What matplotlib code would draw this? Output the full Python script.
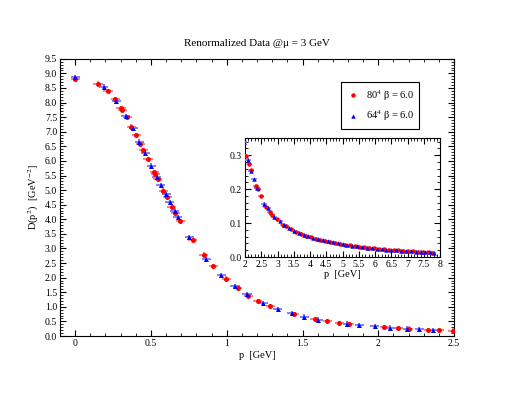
import matplotlib
matplotlib.use("Agg")
import matplotlib.pyplot as plt
from matplotlib.lines import Line2D
from matplotlib.ticker import MultipleLocator, FormatStrFormatter

plt.rcParams['font.family'] = ['Liberation Serif', 'DejaVu Serif']
plt.rcParams['mathtext.fontset'] = 'stix'

# 80^4, beta = 6.0  (red circles)
p_80 = [0.0, 0.151, 0.217, 0.265, 0.303, 0.310, 0.344, 0.371, 0.404, 0.430, 0.450,
        0.481, 0.522, 0.528, 0.546, 0.581, 0.607, 0.638, 0.662, 0.695, 0.776,
        0.849, 0.912, 0.996, 1.072, 1.143, 1.204, 1.287, 1.445, 1.581, 1.664,
        1.741, 1.807, 2.04, 2.13, 2.20, 2.33, 2.40, 2.49, 2.65, 2.77, 2.82,
        2.97, 3.18, 3.27, 3.42, 3.57, 3.72, 3.87, 4.02, 4.17, 4.32, 4.47, 4.62,
        4.77, 4.92, 5.07, 5.22, 5.37, 5.52, 5.67, 5.82, 5.97, 6.12, 6.27, 6.42,
        6.57, 6.72, 6.87, 7.02, 7.17, 7.32, 7.47, 7.62, 7.75]
D_80 = [8.82, 8.65, 8.40, 8.12, 7.81, 7.76, 7.49, 7.18, 6.89, 6.58, 6.36,
        6.07, 5.61, 5.55, 5.37, 4.98, 4.78, 4.43, 4.21, 3.94, 3.30,
        2.79, 2.39, 1.97, 1.63, 1.38, 1.20, 1.02, 0.74, 0.58, 0.50,
        0.45, 0.41, 0.298, 0.274, 0.256, 0.210, 0.199, 0.180, 0.148, 0.133, 0.125,
        0.111, 0.094, 0.091, 0.082, 0.075, 0.069, 0.063, 0.058, 0.054, 0.050, 0.047, 0.044,
        0.041, 0.038, 0.036, 0.034, 0.032, 0.030, 0.029, 0.027, 0.026, 0.024, 0.023, 0.022,
        0.021, 0.020, 0.019, 0.018, 0.017, 0.016, 0.015, 0.014, 0.013]

# 64^4, beta = 6.0  (blue triangles)
p_64 = [0.0, 0.189, 0.272, 0.333, 0.384, 0.423, 0.463, 0.504, 0.540, 0.566,
        0.601, 0.623, 0.656, 0.678, 0.752, 0.866, 0.963, 1.055, 1.134, 1.241,
        1.336, 1.428, 1.511, 1.605, 1.796, 1.873, 1.976, 2.08, 2.19, 2.27,
        2.36, 2.59, 2.72, 2.90, 3.08, 3.20, 3.35, 3.50, 3.65, 3.80, 3.95, 4.10,
        4.25, 4.40, 4.55, 4.70, 4.85, 5.00, 5.15, 5.30, 5.45, 5.60, 5.75, 5.90,
        6.05, 6.20, 6.35, 6.50, 6.65, 6.80, 6.95, 7.10, 7.25, 7.40, 7.55, 7.70, 7.80]
D_64 = [8.86, 8.55, 8.06, 7.54, 7.13, 6.66, 6.28, 5.84, 5.46, 5.17,
        4.85, 4.58, 4.30, 4.07, 3.38, 2.64, 2.09, 1.71, 1.44, 1.13,
        0.93, 0.79, 0.66, 0.56, 0.42, 0.38, 0.34, 0.287, 0.253, 0.229,
        0.203, 0.157, 0.143, 0.118, 0.105, 0.094, 0.086, 0.078, 0.072, 0.066, 0.061, 0.056,
        0.052, 0.049, 0.046, 0.043, 0.040, 0.037, 0.035, 0.033, 0.031, 0.029, 0.028, 0.026,
        0.025, 0.024, 0.022, 0.021, 0.020, 0.019, 0.018, 0.017, 0.016, 0.016, 0.015, 0.014, 0.013]

series = [
    (p_80, D_80, 'red', 'o', '#ff8080', '80$^4$ β = 6.0'),
    (p_64, D_64, 'blue', '^', '#8080ff', '64$^4$ β = 6.0'),
]

fig = plt.figure(figsize=(5.12, 3.96), dpi=100)
ax = fig.add_axes([0.117, 0.1515, 0.770, 0.700])
axin = fig.add_axes([0.4785, 0.351, 0.381, 0.300])

for p, D, col, mk, ecol, lab in series:
    ax.errorbar(p, D, xerr=0.03, yerr=0.08, fmt=mk, color=col, ms=3.6, mew=0,
                ecolor=ecol, elinewidth=1.4, capsize=1.3, zorder=3)
    axin.errorbar(p, D, xerr=0.09, yerr=0.004, fmt=mk, color=col, ms=3.2, mew=0,
                  ecolor=ecol, elinewidth=1.2, capsize=1.0, zorder=3)

ax.set_xlim(-0.1, 2.5)
ax.set_ylim(0, 9.5)
ax.xaxis.set_major_locator(MultipleLocator(0.5))
ax.xaxis.set_minor_locator(MultipleLocator(0.1))
ax.yaxis.set_major_locator(MultipleLocator(0.5))
ax.yaxis.set_minor_locator(MultipleLocator(0.1))
ax.xaxis.set_major_formatter(FormatStrFormatter('%g'))
ax.yaxis.set_major_formatter(FormatStrFormatter('%.1f'))
ax.set_xlabel('p  [GeV]', fontsize=7.5, labelpad=2)
ax.set_ylabel('D(p$^2$)  [GeV$^{-2}$]', fontsize=7.5, labelpad=3)
ax.set_title('Renormalized Data @μ = 3 GeV', fontsize=8, pad=9)

axin.set_xlim(2, 8)
axin.set_ylim(0, 0.35)
axin.xaxis.set_major_locator(MultipleLocator(0.5))
axin.xaxis.set_minor_locator(MultipleLocator(0.1))
axin.yaxis.set_major_locator(MultipleLocator(0.1))
axin.yaxis.set_minor_locator(MultipleLocator(0.02))
axin.xaxis.set_major_formatter(FormatStrFormatter('%g'))
axin.yaxis.set_major_formatter(FormatStrFormatter('%.1f'))
axin.set_xlabel('p  [GeV]', fontsize=7.5, labelpad=1)

for a in (ax, axin):
    a.tick_params(which='both', direction='in', top=True, right=True, labelsize=7, pad=2)
    a.tick_params(which='major', length=4, width=0.8)
    a.tick_params(which='minor', length=2, width=0.6)
    for s in a.spines.values():
        s.set_linewidth(0.8)

handles = [Line2D([], [], ls='none', marker=mk, color=col, ms=3.2, mew=0)
           for _, _, col, mk, _, _ in series]
labels = [lab for *_, lab in series]
leg = ax.legend(handles, labels, loc='upper left', bbox_to_anchor=(0.70, 0.935),
                fontsize=7.5, frameon=True, fancybox=False, framealpha=1,
                edgecolor='black', handlelength=1.2, handletextpad=0.6,
                borderpad=0.55, labelspacing=0.55)
leg.get_frame().set_linewidth(0.8)

fig.savefig('out.png', dpi=100)
